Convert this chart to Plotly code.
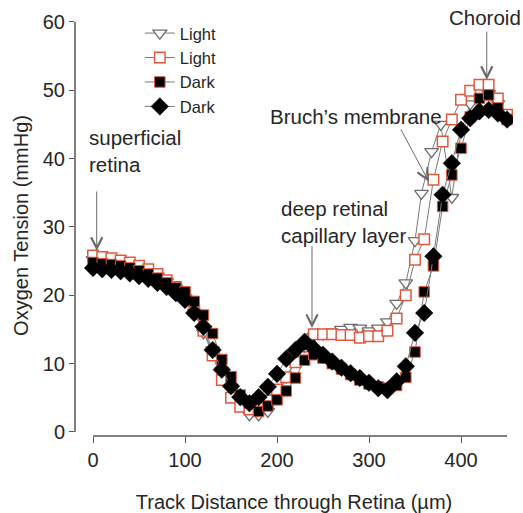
import plotly.graph_objects as go

depth = [0, 10, 20, 30, 40, 50, 60, 70, 80, 90, 100, 110, 120, 130, 140, 150, 160, 170, 180, 190,
         200, 210, 220, 230, 240, 250, 260, 270, 280, 290, 300, 310, 320, 330, 340, 350, 360, 370, 380, 390,
         400, 410, 420, 430, 440, 450]

light_tri_x = [0, 10, 20, 30, 40, 50, 60, 70, 80, 90, 100, 110, 120, 130, 140, 150, 160, 170, 180, 190,
               200, 210, 220, 230, 240, 250, 260, 270, 280, 290, 300, 310, 320, 330, 340, 350, 357, 368, 378, 390,
               400, 410, 420, 430, 440, 450]
light_tri = [25.2, 25.0, 24.8, 24.6, 24.3, 23.9, 23.4, 22.8, 22.0, 21.0, 19.6, 17.5, 14.5, 12.0, 9.0, 6.5, 4.2, 2.5, 2.5, 3.0,
             5.0, 8.0, 10.5, 12.5, 14.0, 14.3, 14.6, 15.0, 15.3, 15.2, 14.8, 15.2, 16.1, 18.8, 21.8, 28.0, 34.9, 41.0, 45.0, 34.3,
             44.0, 48.0, 49.0, 49.5, 48.0, 46.5]

light_sq = [25.8, 25.6, 25.4, 25.1, 24.8, 24.3, 23.8, 23.1, 22.2, 21.2, 19.8, 17.8, 14.8, 11.2, 7.6, 5.0, 3.7, 3.3, 3.6, 4.6,
            6.2, 8.0, 10.2, 12.5, 14.3, 14.3, 14.3, 14.2, 14.2, 13.8, 14.0, 14.0, 14.8, 16.6, 20.0, 25.2, 28.2, 36.9, 42.5, 45.7,
            48.6, 49.9, 50.8, 50.8, 48.8, 46.4]

dark_sq = [24.8, 24.6, 24.5, 24.3, 24.0, 23.6, 23.1, 22.5, 21.8, 21.1, 20.5, 19.1, 17.1, 14.4, 10.6, 8.1, 5.4, 4.2, 3.0, 3.8,
           4.7, 6.0, 7.9, 10.5, 11.3, 10.8, 10.0, 9.2, 8.4, 7.6, 7.0, 6.6, 6.4, 6.8, 8.0, 11.7, 20.5, 24.3, 33.0, 37.6,
           41.5, 46.1, 48.8, 49.3, 47.4, 45.7]

dark_dia = [24.0, 23.8, 23.7, 23.5, 23.2, 22.8, 22.4, 21.8, 21.2, 20.3, 19.3, 17.4, 15.4, 12.0, 9.1, 6.7, 5.1, 4.2, 5.1, 6.6,
            8.5, 10.7, 12.0, 13.2, 12.2, 11.3, 10.3, 9.4, 8.6, 7.9, 7.2, 6.4, 6.1, 7.4, 9.6, 14.5, 17.4, 25.7, 34.7, 39.3,
            44.2, 45.9, 46.9, 47.1, 46.6, 45.7]

x_ticks = [0, 100, 200, 300, 400]
y_ticks = [0, 10, 20, 30, 40, 50, 60]

LINE = "#7a7a7a"
RED = "#e2583f"
FONT = "Liberation Sans, Arial, sans-serif"
TC = "#262626"

fig = go.Figure()
fig.add_trace(go.Scatter(x=light_tri_x, y=light_tri, name="Light", mode="lines+markers",
                         line=dict(color=LINE, width=1),
                         marker=dict(symbol="triangle-down", size=12, color="white",
                                     line=dict(color="#6e6e6e", width=1.3))))
fig.add_trace(go.Scatter(x=depth, y=light_sq, name="Light", mode="lines+markers",
                         line=dict(color=LINE, width=1),
                         marker=dict(symbol="square", size=10.5, color="white",
                                     line=dict(color=RED, width=1.5))))
fig.add_trace(go.Scatter(x=depth, y=dark_sq, name="Dark", mode="lines+markers",
                         line=dict(color=LINE, width=1),
                         marker=dict(symbol="square", size=10.5, color="black",
                                     line=dict(color=RED, width=1))))
fig.add_trace(go.Scatter(x=depth, y=dark_dia, name="Dark", mode="lines+markers",
                         line=dict(color=LINE, width=1),
                         marker=dict(symbol="diamond", size=13.5, color="black",
                                     line=dict(color="black", width=0.5))))

AX = "#555555"
fig.update_layout(
    width=523, height=513,
    margin=dict(l=75, r=10, t=15, b=77),
    plot_bgcolor="white", paper_bgcolor="white",
    font=dict(family=FONT, size=20, color=TC),
    showlegend=True,
    legend=dict(x=0.148, y=0.998, xanchor="left", yanchor="top",
                font=dict(size=16.5, color=TC), bgcolor="rgba(0,0,0,0)",
                tracegroupgap=0, itemwidth=30),
    xaxis=dict(range=[-19.6, 456.5], tickvals=x_ticks, showgrid=False, zeroline=False,
               showline=False, ticks="outside", ticklen=6, tickcolor=AX, tickwidth=1.2,
               tickfont=dict(size=20, color=TC), automargin=False,
               title=dict(text="Track Distance through Retina (µm)", font=dict(size=20), standoff=24)),
    yaxis=dict(range=[-0.59, 61.0], tickvals=y_ticks, showgrid=False, zeroline=False,
               showline=False, ticks="outside", ticklen=5, tickcolor=AX, tickwidth=1.2,
               tickfont=dict(size=20, color=TC), automargin=False,
               title=dict(text="Oxygen Tension (mmHg)", font=dict(size=20), standoff=8)),
)

# detached axis lines
fig.add_shape(type="line", xref="x", yref="paper", x0=0, x1=450, y0=0, y1=0,
              line=dict(color=AX, width=1.5))
fig.add_shape(type="line", xref="paper", yref="y", x0=0, x1=0, y0=0, y1=60,
              line=dict(color=AX, width=1.5))

TXT = dict(size=20.5, color=TC, family=FONT)
texts = [
    ("superficial<br>retina", -6.5, 41.1),
    ("deep retinal<br>capillary layer", 202, 30.7),
    ("Bruch\u2019s membrane", 190, 46.2),
    ("Choroid", 385, 60.7),
]
for t, x, y in texts:
    fig.add_annotation(text=t, x=x, y=y, xref="x", yref="y", showarrow=False,
                       xanchor="left", yanchor="middle", align="left", font=TXT)

arrows = [
    (4, 26.5, 4, 35.4),
    (238, 15.2, 238, 27.4),
    (365, 36.6, 333.7, 44.5),
    (428, 51.5, 428, 58.8),
]
for x, y, ax, ay in arrows:
    fig.add_annotation(text="", x=x, y=y, ax=ax, ay=ay, xref="x", yref="y", axref="x", ayref="y",
                       showarrow=True, arrowhead=5, arrowsize=2.2, arrowwidth=1,
                       arrowcolor="#6a6a6a")

fig.write_html("out.html")
